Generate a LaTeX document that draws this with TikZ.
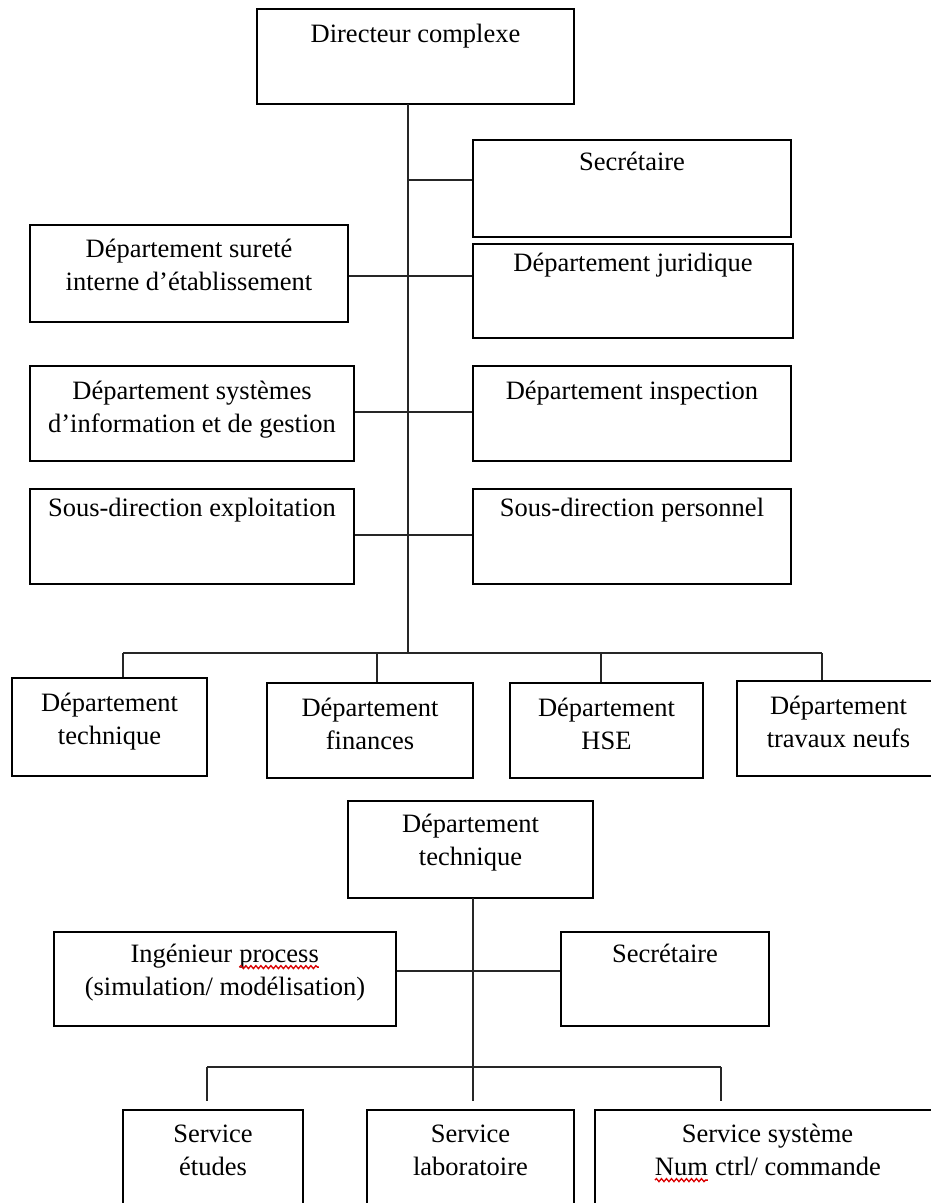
\documentclass[tikz,border=0pt]{standalone}
\usepackage{fontspec}
\setmainfont{Liberation Serif}
\usetikzlibrary{decorations.pathmorphing}
\newcommand\spellerr[1]{\tikz[baseline=(w.base)]{\node[inner sep=0pt,outer sep=0pt](w){#1};\draw[red!85!black,line width=1.3pt,decorate,decoration={snake,amplitude=1.5pt,segment length=5pt}]([yshift=-5pt]w.base west)--([yshift=-5pt]w.base east);}}
% name, x1, y1, x2, y2, baseline offset, text
\newcommand\orgnode[7]{%
  \node[orgbox, minimum width={#4-#2}, minimum height={#5-#3}] (#1) at ({(#2+#4)/2},{(#3+#5)/2}) {};
  \node[lbl] (#1t) at ([yshift={-(#6-23.1)*1pt}]#1.north) {\strut #7};}
\tikzset{
  orgbox/.style={draw=black, line width=2.2pt, rectangle, inner sep=0pt},
  lbl/.style={anchor=north, inner sep=0pt, align=center, font=\fontsize{26.5}{33}\selectfont},
  conn/.style={draw=black!85, line width=2pt}
}
\begin{document}
\begin{tikzpicture}[x=1pt,y=-1pt]
\useasboundingbox (0,0) rectangle (930,1203);
\orgnode{dir}{257}{9}{574}{104}{34}{Directeur complexe}
\orgnode{sec}{473}{140}{791}{237}{31}{Secrétaire}
\orgnode{sur}{30}{225}{348}{322}{33}{Département sureté\\interne d’établissement}
\orgnode{jur}{473}{244}{793}{338}{28}{Département juridique}
\orgnode{sys}{30}{366}{354}{461}{34}{Département systèmes\\d’information et de gestion}
\orgnode{ins}{473}{366}{791}{461}{34}{Département inspection}
\orgnode{exp}{30}{489}{354}{584}{28}{Sous-direction exploitation}
\orgnode{per}{473}{489}{791}{584}{28}{Sous-direction personnel}
\orgnode{tech}{12}{678}{207}{776}{34}{Département\\technique}
\orgnode{fin}{267}{683}{473}{778}{34}{Département\\finances}
\orgnode{hse}{510}{683}{703}{778}{34}{Département\\HSE}
\orgnode{trav}{737}{681}{940}{776}{34}{Département\\travaux neufs}
\orgnode{dtb}{348}{801}{593}{898}{32}{Département\\technique}
\orgnode{ing}{54}{932}{396}{1026}{31}{Ingénieur \spellerr{process}\\(simulation/ modélisation)}
\orgnode{secb}{561}{932}{769}{1026}{31}{Secrétaire}
\orgnode{se}{123}{1110}{303}{1212}{33}{Service\\études}
\orgnode{sl}{367}{1110}{574}{1212}{33}{Service\\laboratoire}
\orgnode{ss}{595}{1110}{940}{1212}{33}{Service système\\\spellerr{Num} ctrl/ commande}
% top trunk
\coordinate (t0) at (408,104);
\coordinate (t1) at (408,180);
\coordinate (t2) at (408,276);
\coordinate (t3) at (408,412);
\coordinate (t4) at (408,535);
\coordinate (tb) at (408,653);
\coordinate (b1) at (123,653);
\coordinate (b2) at (377,653);
\coordinate (b3) at (601,653);
\coordinate (b4) at (822,653);
\draw[conn] (t0) -- (tb);
\draw[conn] (t1) -- (t1 -| sec.west);
\draw[conn] (t2 -| sur.east) -- (t2 -| jur.west);
\draw[conn] (t3 -| sys.east) -- (t3 -| ins.west);
\draw[conn] (t4 -| exp.east) -- (t4 -| per.west);
\draw[conn] (b1) -- (b4);
\draw[conn] (b1) -- (b1 |- tech.north);
\draw[conn] (b2) -- (b2 |- fin.north);
\draw[conn] (b3) -- (b3 |- hse.north);
\draw[conn] (b4) -- (b4 |- trav.north);
% bottom trunk
\coordinate (u0) at (473,898);
\coordinate (u1) at (473,971);
\coordinate (c1) at (207,1067);
\coordinate (c2) at (473,1067);
\coordinate (c3) at (721,1067);
\draw[conn,shorten >=8pt] (u0) -- (u0 |- sl.north);
\draw[conn] (u1 -| ing.east) -- (u1 -| secb.west);
\draw[conn] (c1) -- (c3);
\draw[conn,shorten >=8pt] (c1) -- (c1 |- se.north);
\draw[conn,shorten >=8pt] (c3) -- (c3 |- ss.north);
\end{tikzpicture}
\end{document}
